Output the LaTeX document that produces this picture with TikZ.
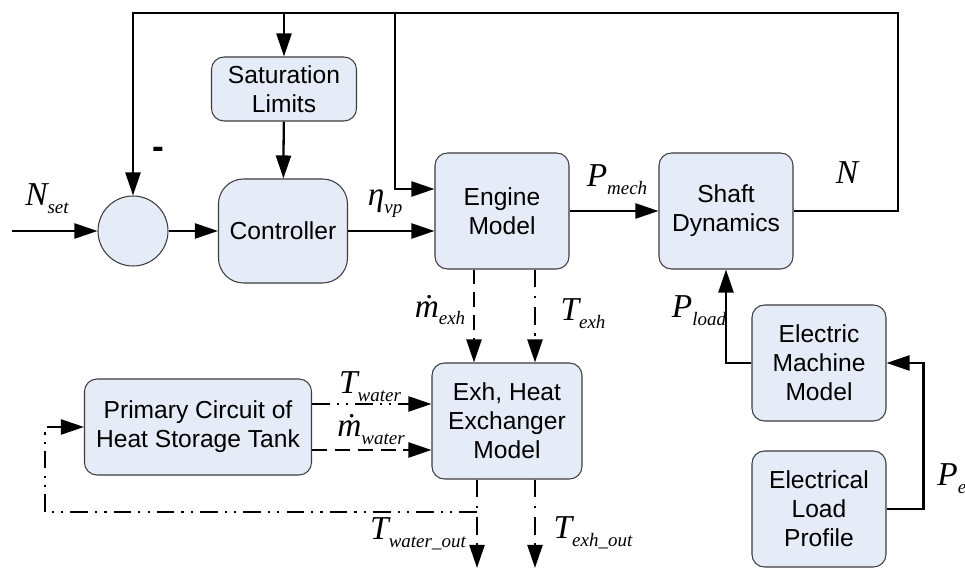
\documentclass[tikz,border=0pt]{standalone}
\usepackage{fontspec}
\setmainfont{Liberation Sans}
\newfontfamily\sigfont{Liberation Serif}
\usetikzlibrary{arrows.meta, positioning, calc}
\definecolor{blockblue}{RGB}{230,236,247}
\definecolor{blockedge}{RGB}{60,60,60}
% signal name with lowered subscript
\newcommand{\sig}[2]{{\sigfont\itshape #1}\raisebox{-4.5pt}{\fontsize{10.8}{11}\selectfont\sigfont\itshape #2}}

\begin{document}
\begin{tikzpicture}[
        box/.style={rectangle, draw=blockedge, line width=0.6pt, fill=blockblue, rounded corners=0.25cm, minimum width=2.68cm, minimum height=2.32cm, align=center, font=\fontsize{14}{16.5}\selectfont, inner sep=2pt},
        arrow/.style={-{Triangle[length=0.46cm, width=0.3cm]}, line width=1.3pt},
        lbl/.style={font=\fontsize{19}{21}\selectfont, inner sep=0pt},
        dashline/.style={dash pattern=on 8.5pt off 4.5pt},
        dotdash/.style={dash pattern=on 10pt off 5pt on 1.3pt off 5pt},
        dotdotdash/.style={dash pattern=on 10pt off 4pt on 1.3pt off 4pt on 1.3pt off 4pt}
    ]
        \useasboundingbox (0,0) rectangle (19.3,11.4);

        % Row 1: Speed loop
        \node[circle, draw=blockedge, fill=blockblue, line width=0.6pt, minimum size=1.4cm] (sum) at (2.66,6.78) {};
        \node[box, minimum width=2.9cm, minimum height=1.28cm] (sat) at (5.68,9.62) {Saturation\\Limits};
        \node[box, minimum width=2.58cm, minimum height=2.08cm, rounded corners=0.5cm] (ctrl) at (5.66,6.78) {Controller};
        \node[box] (engine) at (10.04,7.18) {Engine\\Model};
        \node[box] (shaft) at (14.52,7.18) {Shaft\\Dynamics};

        % Row 2: Heat recovery and electrical side
        \node[box, minimum width=3cm] (exch) at (10.14,2.98) {Exh, Heat\\Exchanger\\Model};
        \node[box, minimum width=4.54cm, minimum height=1.92cm] (prim) at (3.96,2.86) {Primary Circuit of\\Heat Storage Tank};
        \node[box] (emm) at (16.38,4.14) {Electric\\Machine\\Model};
        \node[box] (elp) at (16.38,1.22) {Electrical\\Load\\Profile};

        % Corner points of the lines
        \coordinate (start) at (0.24,6.78);
        \coordinate (fbR) at (17.96,11.14);
        \coordinate (fbL) at (2.66,11.14);
        \coordinate (tapE) at (7.9,11.14);
        \coordinate (wout) at (9.54,0.04);
        \coordinate (eout) at (10.7,0.04);
        \coordinate (loopL) at (0.9,1.16);

        % Arrows - speed loop
        \draw[arrow] (start) -- (sum);
        \draw[arrow] (sum) -- (ctrl);
        \draw[arrow] (sat) -- (ctrl);
        \draw[arrow] (ctrl.east) -- (ctrl.east -| engine.west);
        \draw[arrow] (engine) -- (shaft);
        \draw[arrow] (shaft.east) -| (fbR) -- (fbL) -- (sum.north);
        \draw[arrow] (sat.north |- fbR) -- (sat.north);
        \draw[arrow] (tapE) |- ([yshift=0.44cm]engine.west);

        % Arrows - exhaust and water
        \draw[arrow, dashline] ([xshift=-0.56cm]engine.south) -- ([xshift=-0.56cm]engine.south |- exch.north);
        \draw[arrow, dotdash] ([xshift=0.66cm]engine.south) -- ([xshift=0.66cm]engine.south |- exch.north);
        \draw[arrow, dotdotdash] ([yshift=0.46cm]prim.east) -- ([yshift=0.46cm]prim.east -| exch.west);
        \draw[arrow, dashline] ([yshift=-0.46cm]prim.east) -- ([yshift=-0.46cm]prim.east -| exch.west);
        \draw[arrow, dotdash] (wout |- exch.south) -- (wout);
        \draw[arrow, dotdash] (eout |- exch.south) -- (eout);
        \draw[arrow, dotdotdash] (wout |- loopL) -- (loopL) |- (prim.west);

        % Arrows - electrical side
        \draw[arrow] (emm.west) -| (shaft.south);
        \draw[arrow] (elp.east) -| ([xshift=0.74cm]emm.east) -- (emm.east);

        % Signal labels
        \node[lbl] (nset) at (0.94,7.42) {\sig{N}{set}};
        \node[font=\bfseries\fontsize{20}{20}\selectfont, inner sep=0pt] (minus) at (3.16,8.34) {-};
        \node[lbl] (etavp) at (7.7,7.32) {\sig{η}{vp}};
        \node[lbl] (pmech) at (12.34,7.8) {\sig{P}{mech}};
        \node[lbl] (nout) at (16.94,7.86) {\sig{N}{}};
        \node[lbl] (mexh) at (8.8,5.2) {\sig{\.{m}}{exh}};
        \node[lbl] (texh) at (11.66,5.12) {\sig{T}{exh}};
        \node[lbl] (twater) at (7.4,3.66) {\sig{T}{water}};
        \node[lbl] (mwater) at (7.42,2.8) {\sig{\.{m}}{water}};
        \node[lbl] (twout) at (8.36,0.72) {\sig{T}{water\_out}};
        \node[lbl] (texhout) at (11.86,0.74) {\sig{T}{exh\_out}};
        \node[lbl] (pload) at (13.98,5.18) {\sig{P}{load}};
        \node[lbl, anchor=west] (pel) at (18.74,1.82) {\sig{P}{el}};
    \end{tikzpicture}
\end{document}
